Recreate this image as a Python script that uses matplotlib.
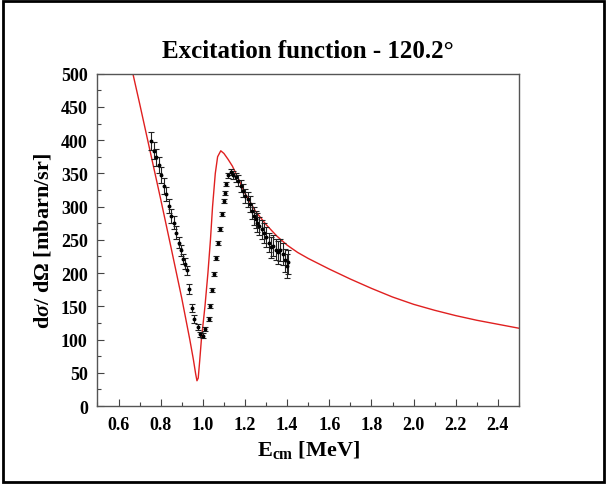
import matplotlib
matplotlib.use("Agg")
import matplotlib.pyplot as plt
from matplotlib.patches import Rectangle
from matplotlib.ticker import MultipleLocator

plt.rcParams['font.family'] = ['Liberation Serif', 'DejaVu Serif']
plt.rcParams['font.weight'] = 'bold'
plt.rcParams['mathtext.fontset'] = 'custom'
plt.rcParams['mathtext.rm'] = 'Liberation Serif:bold'
plt.rcParams['mathtext.it'] = 'Liberation Serif:italic:bold'
plt.rcParams['mathtext.bf'] = 'Liberation Serif:bold'

# Theory curve (red)
curve_x = [0.668, 0.70, 0.75, 0.80, 0.85, 0.90, 0.938, 0.955, 0.966, 0.972, 0.978,
           0.985, 0.993, 1.010, 1.024, 1.036, 1.046, 1.059, 1.070, 1.085, 1.100,
           1.120, 1.140, 1.170, 1.200, 1.250, 1.300, 1.350, 1.400, 1.450, 1.500,
           1.550, 1.600, 1.700, 1.800, 1.900, 2.000, 2.100, 2.200, 2.300, 2.400,
           2.500]
curve_y = [500, 455, 383, 311, 237, 162, 100, 70, 48, 38, 42,
           68, 100, 150, 200, 250, 300, 350, 375, 384, 380,
           371, 361, 341, 320, 293, 273, 256, 242, 231, 222,
           214, 206, 191, 177, 164, 153, 144, 136, 129, 123,
           117]

# Measured data
data_x = [0.754, 0.768, 0.777, 0.790, 0.801, 0.814, 0.827, 0.838, 0.851, 0.862,
          0.873, 0.885, 0.896, 0.907, 0.916, 0.923, 0.934, 0.947, 0.960, 0.975,
          0.988, 0.999, 1.012, 1.027, 1.032, 1.045, 1.052, 1.061, 1.070, 1.080,
          1.089, 1.098, 1.107, 1.112, 1.121, 1.132, 1.145, 1.158, 1.169, 1.180,
          1.191, 1.202, 1.213, 1.224, 1.235, 1.242, 1.250, 1.259, 1.268, 1.279,
          1.290, 1.301, 1.312, 1.323, 1.334, 1.345, 1.356, 1.367, 1.378, 1.389,
          1.400, 1.406]
data_y = [399, 384, 374, 362, 347, 331, 319, 301, 286, 276,
          261, 246, 234, 221, 214, 204, 176, 148, 131, 119,
          108, 106, 116, 131, 150, 175, 199, 223, 246, 266,
          289, 309, 321, 334, 347, 352, 348, 344, 339, 331,
          324, 316, 311, 304, 294, 286, 281, 276, 271, 266,
          261, 254, 246, 239, 241, 235, 231, 235, 229, 219,
          211, 216]
data_err = [14, 13, 13, 12, 12, 12, 11, 11, 10, 10,
            10, 9, 9, 8, 8, 7, 7, 6, 6, 5,
            4, 4, 3, 3, 3, 3, 3, 3, 3, 3,
            3, 3, 3, 3, 4, 5, 6, 7, 8, 9,
            10, 10, 11, 12, 12, 13, 13, 14, 14, 14,
            15, 15, 15, 16, 16, 16, 17, 17, 17, 17,
            18, 18]

xticks = [0.6, 0.8, 1.0, 1.2, 1.4, 1.6, 1.8, 2.0, 2.2, 2.4]
yticks = [0, 50, 100, 150, 200, 250, 300, 350, 400, 450, 500]

fig = plt.figure(figsize=(6.07, 4.85), dpi=100)
ax = fig.add_axes([0.1606, 0.1608, 0.6944, 0.6852])

ax.plot(curve_x, curve_y, color='#e02020', lw=1.0, zorder=2)
ax.errorbar(data_x, data_y, yerr=data_err, fmt='o', ms=1.8, color='black',
            ecolor='#222222', elinewidth=0.8, capsize=2.2, capthick=0.8, zorder=3)

ax.set_xlim(0.5, 2.5)
ax.set_ylim(0, 500)
ax.set_xticks(xticks)
ax.set_xticklabels([f"{v:.1f}" for v in xticks])
ax.set_yticks(yticks)
ax.xaxis.set_minor_locator(MultipleLocator(0.1))
ax.yaxis.set_minor_locator(MultipleLocator(25))
ax.tick_params(which='both', direction='in', top=False, right=False,
               labelsize=13, color='#444444')
ax.tick_params(which='major', length=5, width=0.8, pad=7)
ax.tick_params(which='minor', length=3, width=0.8)
for lab in ax.get_xticklabels() + ax.get_yticklabels():
    lab.set_fontweight('bold')
for sp in ax.spines.values():
    sp.set_color('#555555')
    sp.set_linewidth(1.0)

ax.set_title('Excitation function - 120.2°', fontsize=18, fontweight='bold', pad=12)
ax.set_xlabel(r'E$_{\mathrm{cm}}$ [MeV]', fontsize=16, fontweight='bold', labelpad=4)
ax.set_ylabel(r'd$\sigma$/ d$\Omega$ [mbarn/sr]', fontsize=16, fontweight='bold', labelpad=5)

fig.patches.append(Rectangle((0.005, 0.005), 0.99, 0.99, transform=fig.transFigure,
                             fill=False, edgecolor='black', lw=2))

fig.savefig('out.png', dpi=100)
